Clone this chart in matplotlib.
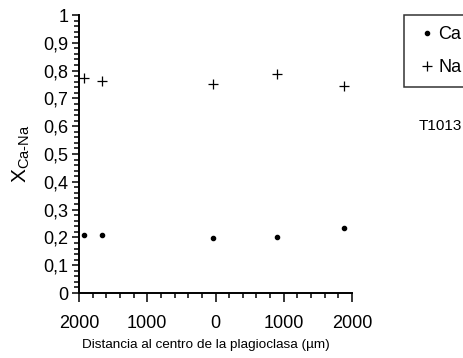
import matplotlib
matplotlib.use("Agg")
import matplotlib.pyplot as plt
from matplotlib.ticker import MultipleLocator, FixedLocator, FuncFormatter

plt.rcParams['font.family'] = ['Liberation Sans', 'DejaVu Sans']
plt.rcParams['mathtext.fontset'] = 'custom'
plt.rcParams['mathtext.rm'] = 'Liberation Sans'

# Distance along the plagioclase traverse (um), negative = left of centre
distance = [-1930, -1660, -30, 900, 1880]
x_ca = [0.209, 0.209, 0.198, 0.201, 0.234]
x_na = [0.775, 0.761, 0.752, 0.787, 0.743]

x_ticks = [-2000, -1000, 0, 1000, 2000]
y_ticks = [0, 0.1, 0.2, 0.3, 0.4, 0.5, 0.6, 0.7, 0.8, 0.9, 1]
sample_name = "T1013"

fig = plt.figure(figsize=(4.63, 3.58), dpi=100)
ax = fig.add_axes([79 / 463, 1 - 293 / 358, (352 - 79) / 463, (293 - 15) / 358])

ax.plot(distance, x_ca, linestyle='none', marker='o', markersize=3.0,
        color='black', label='Ca')
ax.plot(distance, x_na, linestyle='none', marker='+', markersize=7.5,
        markeredgewidth=0.9, color='black', label='Na')

ax.set_xlim(-2000, 2000)
ax.set_ylim(0, 1)

for side in ('top', 'right'):
    ax.spines[side].set_visible(False)
for side in ('left', 'bottom'):
    ax.spines[side].set_linewidth(1.4)

# distance is measured outward from the centre, so both sides read positive
ax.xaxis.set_major_locator(FixedLocator(x_ticks))
ax.xaxis.set_minor_locator(MultipleLocator(200))
ax.xaxis.set_major_formatter(FuncFormatter(lambda v, p: f"{abs(int(round(v)))}"))

def comma_fmt(v, p):
    if abs(v) < 1e-9:
        return "0"
    if abs(v - 1) < 1e-9:
        return "1"
    return f"{v:.1f}".replace('.', ',')

ax.yaxis.set_major_locator(FixedLocator(y_ticks))
ax.yaxis.set_minor_locator(MultipleLocator(0.02))
ax.yaxis.set_major_formatter(FuncFormatter(comma_fmt))

ax.tick_params(axis='both', which='both', direction='out', width=1.1,
               labelsize=13, colors='black')
ax.tick_params(axis='x', which='major', length=6.5, pad=9)
ax.tick_params(axis='x', which='minor', length=3.5)
ax.tick_params(axis='y', which='major', length=5, pad=2.5)
ax.tick_params(axis='y', which='minor', length=3.5)

ax.set_xlabel("Distancia al centro de la plagioclasa (\u00b5m)", fontsize=9.7)
ax.xaxis.label.set_verticalalignment('center')
ax.xaxis.set_label_coords((206 - 79) / 273, -(345 - 293) / 278)
ax.set_ylabel(r"X$_{\mathrm{Ca\text{-}Na}}$", fontsize=15, labelpad=8)

leg = fig.legend(loc='upper left', bbox_to_anchor=(404 / 463, 1 - 15 / 358),
                 fontsize=13, frameon=True, fancybox=False, handlelength=1.4,
                 handletextpad=-0.1, borderpad=0.6, labelspacing=0.9,
                 borderaxespad=0)
leg.get_frame().set_edgecolor('black')
leg.get_frame().set_linewidth(1.1)

fig.text(419 / 463, 1 - 126 / 358, sample_name, fontsize=11, va='center',
         ha='left')

fig.savefig("out.png", dpi=100)
